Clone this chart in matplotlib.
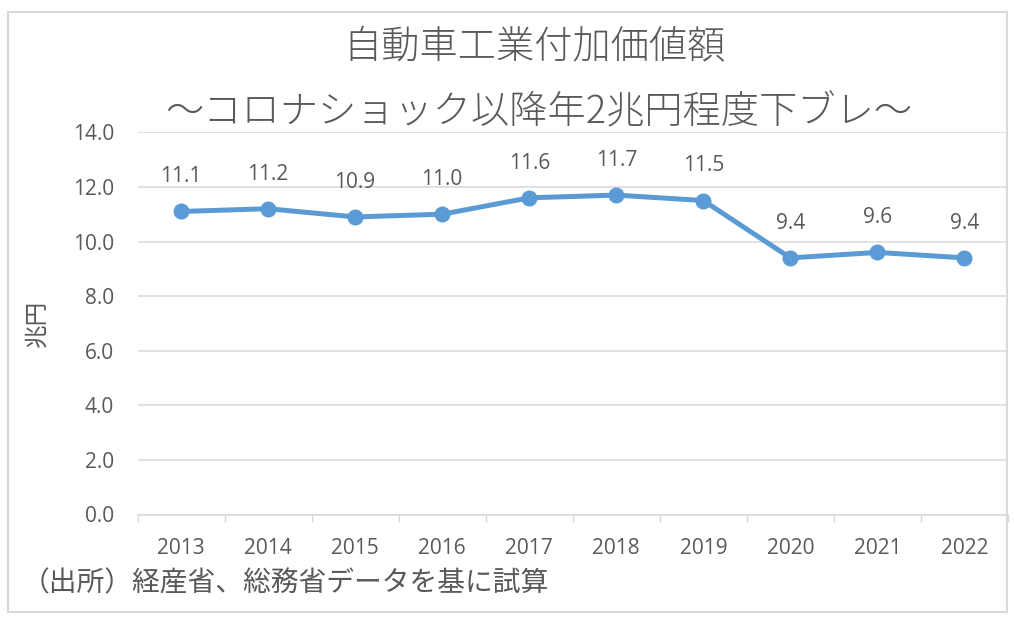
import matplotlib
matplotlib.use("Agg")
import matplotlib.pyplot as plt
from matplotlib.patches import Rectangle
from matplotlib.ticker import FixedLocator

years = ["2013", "2014", "2015", "2016", "2017", "2018", "2019", "2020", "2021", "2022"]
values = [11.1, 11.2, 10.9, 11.0, 11.6, 11.7, 11.5, 9.4, 9.6, 9.4]
yticks = [0, 2, 4, 6, 8, 10, 12, 14]
title1 = "自動車工業付加価値額"
title2 = "～コロナショック以降年2兆円程度下ブレ～"
ylabel = "兆円"
source = "（出所）経産省、総務省データを基に試算"

TXT = "#595959"
GRID = "#D9D9D9"
LINE = "#5B9BD5"
JP = ["Noto Sans CJK JP", "DejaVu Sans"]
NUM = ["Open Sans", "Noto Sans CJK JP", "DejaVu Sans"]

W, H = 1014, 622
fig = plt.figure(figsize=(W / 100, H / 100), dpi=100)
fig.patch.set_facecolor("white")
fig.patches.append(Rectangle((8 / W, 1 - 612 / H), (1007 - 8) / W, (612 - 12) / H,
                             transform=fig.transFigure, fill=False,
                             edgecolor=GRID, linewidth=1.5))

left, right = 137.5 / W, 1008 / W
bottom, top = 1 - 514.5 / H, 1 - 132.3 / H
ax = fig.add_axes([left, bottom, right - left, top - bottom])

x = list(range(len(years)))
ax.plot(x, values, color=LINE, linewidth=3.6, marker="o", markersize=10.5,
        solid_capstyle="round", zorder=3, clip_on=False)
for xi, v in zip(x, values):
    ax.annotate(f"{v:.1f}", (xi, v), xytext=(0, 25), textcoords="offset points",
                ha="center", va="center", fontsize=15, color=TXT, family=NUM)

ax.set_xlim(-0.5, len(years) - 0.5)
ax.set_ylim(0, 14)
ax.set_yticks(yticks)
ax.set_yticklabels([f"{t:.1f}" for t in yticks], family=NUM, fontsize=15, color=TXT)
ax.set_xticks(x)
ax.set_xticklabels(years, family=NUM, fontsize=15, color=TXT)
ax.xaxis.set_minor_locator(FixedLocator([i - 0.5 for i in range(len(years) + 1)]))
ax.tick_params(axis="x", which="major", length=0, pad=17)
ax.tick_params(axis="x", which="minor", length=5, width=1, color=GRID, direction="out")
ax.tick_params(axis="y", length=0, pad=17)
ax.grid(axis="y", color=GRID, linewidth=1.1)
ax.set_axisbelow(True)
for s in ["top", "right", "left"]:
    ax.spines[s].set_visible(False)
ax.spines["bottom"].set_color(GRID)
ax.spines["bottom"].set_linewidth(1.1)

fig.text(535 / W, 1 - 48 / H, title1, ha="center", va="center", fontsize=27.5,
         color=TXT, family=JP, weight="light")
fig.text(539 / W, 1 - 113 / H, title2, ha="center", va="center", fontsize=27.5,
         color=TXT, family=JP, weight="light")
fig.text(37 / W, 1 - 323 / H, ylabel, ha="center", va="center", rotation=90,
         fontsize=17, color=TXT, family=JP)
fig.text(22 / W, 1 - 583 / H, source, ha="left", va="center", fontsize=20,
         color=TXT, family=JP)

fig.savefig("out.png", dpi=100)
